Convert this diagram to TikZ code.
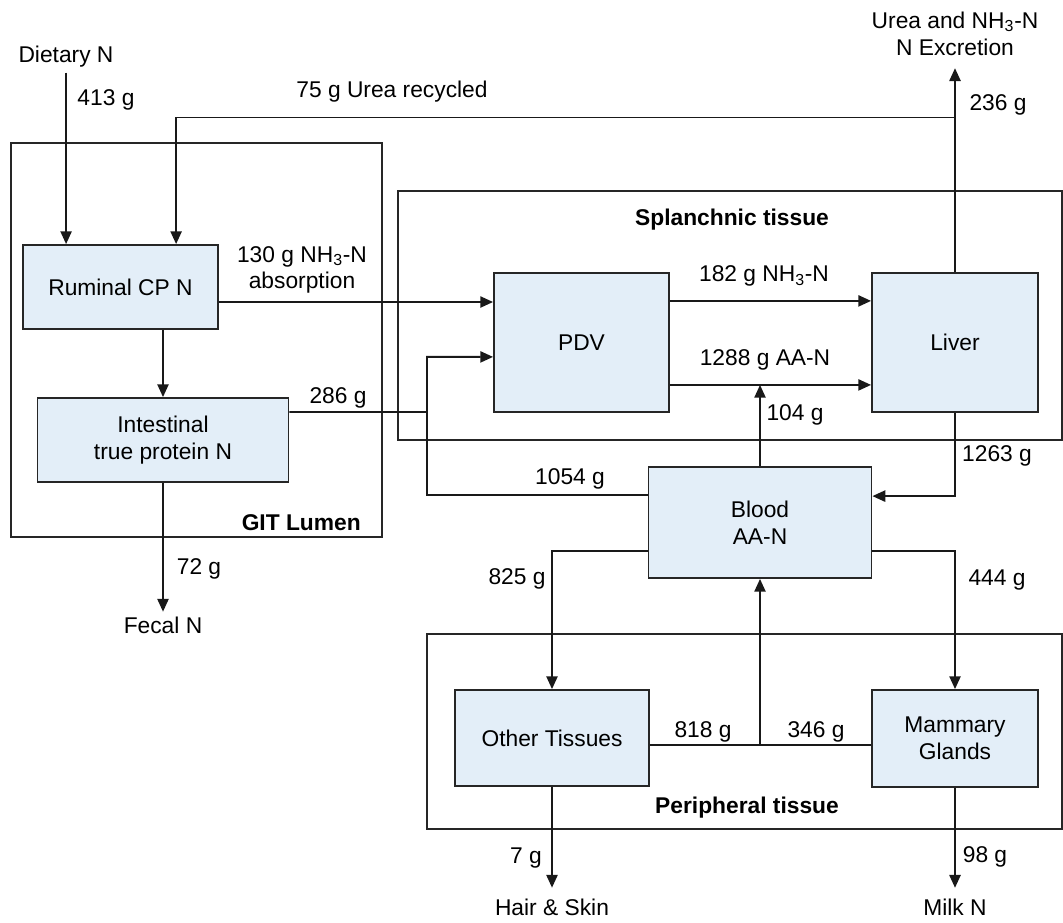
\documentclass[tikz,border=0pt]{standalone}
\usepackage{fontspec}
\setmainfont{Liberation Sans}
\usetikzlibrary{arrows.meta, positioning}
\definecolor{poolblue}{HTML}{E3EEF8}

\begin{document}
\begin{tikzpicture}[x=0.025cm, y=-0.025cm,
	every node/.style={font=\fontsize{16.2}{19}\selectfont},
	pool/.style={draw=black!85, line width=1.3pt, fill=poolblue, align=center, inner sep=2pt},
	region/.style={draw=black!85, line width=1.2pt},
	flow/.style={draw=black!90, line width=1.3pt},
	arr/.style={flow, -{Triangle[length=0.32cm, width=0.28cm]}},
	lbl/.style={inner sep=0pt, align=center},
	ttl/.style={inner sep=0pt, font=\fontsize{16.2}{19}\selectfont\bfseries}]
	\useasboundingbox (0,0) rectangle (1063,922);
	% Compartments
	\draw[region] (11,143) rectangle (382,537);
	\draw[region] (398,191) rectangle (1062,440);
	\draw[region] (427,634) rectangle (1062,829);
	\node[ttl, anchor=east] at (361,523) {GIT Lumen};
	\node[ttl] at (732,220) {Splanchnic tissue};
	\node[ttl] at (747,808) {Peripheral tissue};
	% N pools
	\node[pool, minimum width=4.875cm, minimum height=2.1cm] (rumen) at (120.5,287) {Ruminal CP N};
	\node[pool, minimum width=6.275cm, minimum height=2.1cm] (intest) at (163,440) {Intestinal\\true protein N};
	\node[pool, minimum width=4.375cm, minimum height=3.475cm] (pdv) at (581.5,342.5) {PDV};
	\node[pool, minimum width=4.15cm, minimum height=3.475cm] (liver) at (955,342.5) {Liver};
	\node[pool, minimum width=5.575cm, minimum height=2.775cm] (blood) at (760,522.5) {Blood\\AA-N};
	\node[pool, minimum width=4.85cm, minimum height=2.4cm] (other) at (552,738) {Other Tissues};
	\node[pool, minimum width=4.15cm, minimum height=2.425cm] (mammary) at (955,738.5) {Mammary\\Glands};
	% Inputs and outputs
	\node (diet) at (66,57) {Dietary N};
	\node[align=center] (excr) at (955,33.5) {Urea and NH\textsubscript{3}-N\\N Excretion};
	\node (fecal) at (163,625) {Fecal N};
	\node (hair) at (552,907) {Hair \& Skin};
	\node (milk) at (955,907) {Milk N};
	% Junctions
	\coordinate (recycle) at (955,117.5);
	\coordinate (dietin) at ([xshift=-1.36cm]rumen.north);
	\coordinate (ureain) at ([xshift=1.39cm]rumen.north);
	\coordinate (gut) at (427,412);
	\coordinate (nh3) at ([yshift=-0.375cm]rumen.east);
	\coordinate (pdvnh3) at ([yshift=1.04cm]pdv.east);
	\coordinate (pdvaa) at ([yshift=-1.06cm]pdv.east);
	\coordinate (ret) at ([yshift=-0.175cm]other.east);
	% Flows
	\draw[arr] (diet.south -| dietin) -- (dietin);
	\draw[arr] (recycle) -| (ureain);
	\draw[arr] (intest.north |- rumen.south) -- (intest.north);
	\draw[arr] (nh3) -- (nh3 -| pdv.west);
	\draw[arr] ([yshift=0.7cm]intest.east) -- (gut) |- ([yshift=-0.36cm]pdv.west);
	\draw[flow] ([yshift=0.69cm]blood.west) -| (gut);
	\draw[arr] (pdvnh3) -- (pdvnh3 -| liver.west);
	\draw[arr] (pdvaa) -- (pdvaa -| liver.west);
	\draw[arr] (blood.north) -- (blood.north |- pdvaa);
	\draw[arr, shorten >=0.2cm] (liver.north) -- (excr.south);
	\draw[arr] (liver.south) |- ([yshift=0.66cm]blood.east);
	\draw[arr] ([yshift=-0.71cm]blood.west) -| (other.north);
	\draw[arr] ([yshift=-0.71cm]blood.east) -| (mammary.north);
	\draw[flow] (ret) -- (ret -| mammary.west);
	\draw[arr] (ret -| blood.south) -- (blood.south);
	\draw[arr] (intest.south) -- (fecal.north);
	\draw[arr, shorten >=0.15cm] (other.south) -- (hair.north);
	\draw[arr, shorten >=0.15cm] (mammary.south) -- (milk.north);
	% Amounts
	\node[lbl] at (106,100) {413 g};
	\node[lbl] at (392,92) {75 g Urea recycled};
	\node[lbl] at (998,105) {236 g};
	\node[lbl] at (302,270) {130 g NH\textsubscript{3}-N\\absorption};
	\node[lbl] at (764,276) {182 g NH\textsubscript{3}-N};
	\node[lbl] at (765,360) {1288 g AA-N};
	\node[lbl] at (338,398) {286 g};
	\node[lbl] at (795,415) {104 g};
	\node[lbl] at (997,456) {1263 g};
	\node[lbl] at (570,479) {1054 g};
	\node[lbl] at (199,569) {72 g};
	\node[lbl] at (517,579) {825 g};
	\node[lbl] at (997,580) {444 g};
	\node[lbl] at (703,732) {818 g};
	\node[lbl] at (816,732) {346 g};
	\node[lbl] at (526,858) {7 g};
	\node[lbl] at (985,857) {98 g};
\end{tikzpicture}
\end{document}
